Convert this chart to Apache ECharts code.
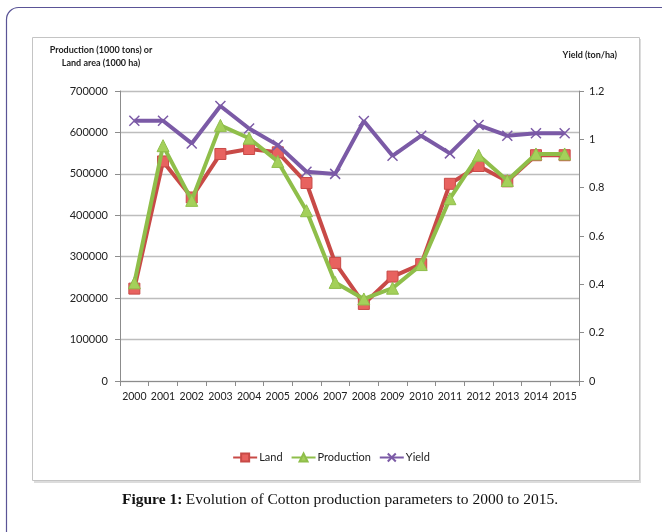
<!DOCTYPE html>
<html>
<head>
<meta charset="utf-8">
<script src="https://cdn.jsdelivr.net/npm/echarts@6/dist/echarts.min.js"></script>
<style>
html,body{margin:0;padding:0;background:#fff;}
#c{width:662px;height:532px;}
</style>
</head>
<body>
<div id="c"></div>
<script>
var years = ['2000','2001','2002','2003','2004','2005','2006','2007','2008','2009','2010','2011','2012','2013','2014','2015'];
var land = [223000,530000,443000,548000,560000,552000,478000,285000,186000,252000,282000,476000,519000,482000,545000,545000];
var production = [237000,568000,436000,617000,586000,530000,411000,238000,198000,224000,281000,440000,545000,484000,548000,548000];
var yieldVals = [1.077,1.077,0.983,1.138,1.045,0.976,0.866,0.857,1.076,0.932,1.015,0.942,1.059,1.015,1.025,1.025];
var leftTicks = {min:0,max:700000,interval:100000};
var rightTicks = {min:0,max:1.2,interval:0.2};

var chart = echarts.init(document.getElementById('c'), null, {renderer:'canvas'});
var font = 'Lato, "Open Sans", sans-serif';
chart.setOption({
  animation:false,
  backgroundColor:'#fff',
  graphic:[
    {type:'rect', shape:{x:6.5,y:7.5,width:700,height:540,r:[12,0,0,12]}, style:{fill:'none',stroke:'#5a5496',lineWidth:1.2}, z:-10},
    {type:'rect', shape:{x:34,y:39,width:607,height:444}, style:{fill:'#dcdcdc',stroke:'none'}, z:-9},
    {type:'rect', shape:{x:32.5,y:37.5,width:607,height:443}, style:{fill:'#fff',stroke:'#c4c4c4',lineWidth:1}, z:-8},
    {type:'text', x:101, y:44, style:{text:'Production (1000 tons) or\nLand area (1000 ha)', fontFamily:font, fontSize:9, fontWeight:'bold', fill:'#222', align:'center', lineHeight:13}},
    {type:'text', x:617, y:51, style:{text:'Yield (ton/ha)', fontFamily:font, fontSize:9, fontWeight:'bold', fill:'#222', align:'right'}},
    {type:'text', x:340, y:492, style:{
      text:'{b|Figure 1:} {n|Evolution of Cotton production parameters to 2000 to 2015.}',
      align:'center',
      rich:{
        b:{fontFamily:'"Liberation Serif", "Times New Roman", serif', fontSize:15.5, fontWeight:'bold', fill:'#111'},
        n:{fontFamily:'"Liberation Serif", "Times New Roman", serif', fontSize:15.5, fill:'#111'}
      }}}
  ],
  legend:{
    bottom:64, left:'center',
    itemWidth:24, itemHeight:10, itemGap:8,
    textStyle:{fontFamily:font, fontSize:11, color:'#222', padding:[0,0,0,-3]},
    data:['Land','Production','Yield']
  },
  grid:{left:120, right:83, top:91, bottom:151},
  xAxis:{
    type:'category', data:years, boundaryGap:true,
    axisLine:{lineStyle:{color:'#8c8c8c',width:1}},
    axisTick:{show:true, length:5, lineStyle:{color:'#8c8c8c'}},
    axisLabel:{fontFamily:font, fontSize:10.5, color:'#222', margin:10, interval:0}
  },
  yAxis:[
    {type:'value', min:leftTicks.min, max:leftTicks.max, interval:leftTicks.interval,
     axisLine:{show:true, lineStyle:{color:'#8c8c8c'}},
     axisTick:{show:true, length:5, lineStyle:{color:'#8c8c8c'}},
     axisLabel:{fontFamily:font, fontSize:11, color:'#222', margin:12,
       formatter:function(v){return String(v);}},
     splitLine:{lineStyle:{color:'#bdbdbd',width:1.3}}},
    {type:'value', min:rightTicks.min, max:rightTicks.max, interval:rightTicks.interval,
     position:'right',
     axisLine:{show:true, lineStyle:{color:'#8c8c8c'}},
     axisTick:{show:true, length:5, lineStyle:{color:'#8c8c8c'}},
     axisLabel:{fontFamily:font, fontSize:11, color:'#222', margin:10,
       formatter:function(v){return String(Math.round(v*10)/10);}},
     splitLine:{show:false}}
  ],
  series:[
    {name:'Land', type:'line', data:land, yAxisIndex:0, z:2,
     lineStyle:{color:'#c84a47',width:4},
     symbol:'rect', symbolSize:11,
     itemStyle:{color:'#e8625f',borderColor:'#c84a47',borderWidth:1}},
    {name:'Production', type:'line', data:production, yAxisIndex:0, z:3,
     lineStyle:{color:'#8fbe4a',width:4},
     symbol:'triangle', symbolSize:12,
     itemStyle:{color:'#a4d05a',borderColor:'#8fbe4a',borderWidth:1}},
    {name:'Yield', type:'line', data:yieldVals, yAxisIndex:1, z:4,
     lineStyle:{color:'#7b5aa6',width:4},
     symbol:'path://M0,0L10,10M10,0L0,10', symbolSize:10,
     itemStyle:{color:'#7b5aa6',borderColor:'#7b5aa6',borderWidth:1.5}}
  ]
});
</script>
</body>
</html>
